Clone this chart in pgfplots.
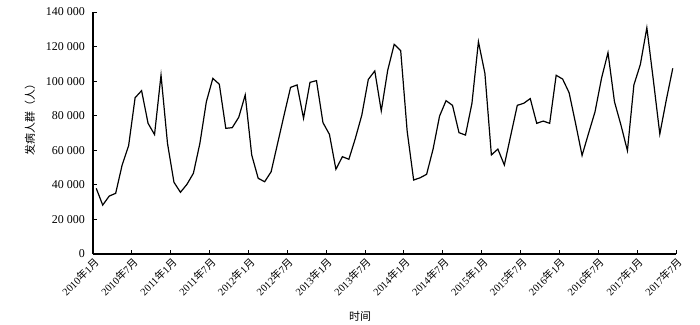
\documentclass[border=0pt]{standalone}
\usepackage{fontspec}
\setmainfont{Liberation Serif}
\newfontfamily\cjk{Noto Sans CJK SC}
\usepackage{pgfplots}
\usepackage{pgfplotstable}
\pgfplotsset{compat=1.18}
\pgfplotstableread{
k v
0 38000
1 28300
2 33500
3 35100
4 51500
5 62700
6 90400
7 94500
8 75600
9 69100
10 103500
11 64000
12 41500
13 35700
14 40300
15 46700
16 64000
17 88100
18 101600
19 98200
20 72700
21 73100
22 79100
23 92000
24 57300
25 43800
26 41800
27 47600
28 64000
29 80400
30 96400
31 97800
32 78500
33 99300
34 100300
35 76000
36 69200
37 49000
38 56300
39 54800
40 66900
41 80400
42 101000
43 105900
44 82800
45 106400
46 121300
47 117600
48 71000
49 42800
50 44100
51 46100
52 60700
53 79800
54 88700
55 86000
56 70200
57 68800
58 87200
59 122800
60 104500
61 57300
62 60700
63 51500
64 68800
65 86000
66 87200
67 89900
68 75600
69 76900
70 75600
71 103400
72 101200
73 93300
74 75500
75 57000
76 69800
77 82300
78 101600
79 116500
80 88100
81 74600
82 59800
83 97800
84 109700
85 130900
86 100700
87 69400
88 89100
89 107400
}\datatable
\newcommand\ym[2]{#1{\cjk 年}#2{\cjk 月}}
\begin{document}
\begin{tikzpicture}
\begin{axis}[
  scale only axis,
  width=583bp, height=242bp,
  xmin=-0.5, xmax=89.5,
  ymin=0, ymax=140000,
  scaled y ticks=false,
  axis lines=left,
  axis line style={line width=1.1bp, -},
  tick align=inside,
  major tick length=4bp,
  tick style={line width=0.9bp, black},
  xtick={-0.5,5.5,...,89.5},
  xticklabels={\ym{2010}{1},\ym{2010}{7},\ym{2011}{1},\ym{2011}{7},\ym{2012}{1},\ym{2012}{7},\ym{2013}{1},\ym{2013}{7},\ym{2014}{1},\ym{2014}{7},\ym{2015}{1},\ym{2015}{7},\ym{2016}{1},\ym{2016}{7},\ym{2017}{1},\ym{2017}{7}},
  x tick label style={rotate=45, anchor=north east, font=\fontsize{10.5}{12}\selectfont, inner sep=1.5bp, yshift=-1bp},
  ytick={0,20000,...,140000},
  yticklabels={0,20 000,40 000,60 000,80 000,100 000,120 000,140 000},
  y tick label style={font=\fontsize{12}{14}\selectfont, inner sep=2bp, xshift=-6bp},
  xlabel={\cjk 时间},
  xlabel style={at={(axis description cs:0.458,-0.256)}, anchor=center, font=\fontsize{11}{13}\selectfont},
  ylabel={\cjk 发病人群（人）},
  ylabel style={at={(axis description cs:-0.108,0.566)}, anchor=center, rotate=0, font=\fontsize{11}{13}\selectfont},
  clip=false,
]
\addplot[black, line width=1.2bp, mark=none] table[x=k, y=v] {\datatable};
\end{axis}
\pgfresetboundingbox
\path[use as bounding box] ([shift={(-93bp,-70bp)}]current axis.south west) rectangle ([shift={(24bp,12bp)}]current axis.north east);
\end{tikzpicture}
\end{document}
